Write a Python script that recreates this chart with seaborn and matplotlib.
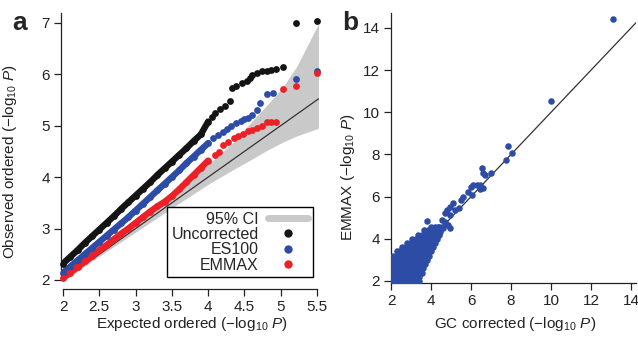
import numpy as np
import pandas as pd
import matplotlib.pyplot as plt
from matplotlib.lines import Line2D
import seaborn as sns

sns.set_style("ticks")
plt.rcParams['font.family'] = ['Liberation Sans', 'DejaVu Sans']
plt.rcParams['mathtext.fontset'] = 'custom'
plt.rcParams['mathtext.rm'] = 'Liberation Sans'
plt.rcParams['mathtext.it'] = 'Liberation Sans:italic'

# panel a: QQ plot, dense part (drawn as a band of dots) and the sparse tail
dense_x = [2.0, 2.1, 2.2, 2.3, 2.4, 2.5, 2.6, 2.7, 2.8, 2.9, 3.0, 3.1, 3.2, 3.3,
           3.4, 3.5, 3.6, 3.7, 3.8, 3.9, 4.0]
unc_dense = [2.32, 2.45, 2.58, 2.72, 2.85, 2.98, 3.11, 3.24, 3.38, 3.51, 3.64, 3.77,
             3.90, 4.04, 4.17, 4.30, 4.43, 4.56, 4.70, 4.83, 5.08]
es_dense = [2.14, 2.26, 2.38, 2.50, 2.62, 2.74, 2.86, 2.98, 3.10, 3.22, 3.35, 3.48,
            3.61, 3.74, 3.87, 4.00, 4.13, 4.27, 4.40, 4.53, 4.66]
em_dense = [2.04, 2.14, 2.25, 2.36, 2.47, 2.58, 2.68, 2.79, 2.90, 3.00, 3.11, 3.22,
            3.33, 3.43, 3.52, 3.63, 3.76, 3.90, 4.04, 4.18, 4.32]

unc_tail_x = [4.05, 4.1, 4.16, 4.23, 4.30, 4.33, 4.39, 4.46, 4.53, 4.57, 4.61, 4.67,
              4.74, 4.81, 4.87, 4.94, 5.03, 5.21, 5.50]
unc_tail_y = [5.16, 5.24, 5.32, 5.39, 5.47, 5.73, 5.77, 5.82, 5.87, 5.92, 5.98, 6.03,
              6.06, 6.07, 6.09, 6.11, 6.14, 6.99, 7.04]
es_tail_x = [4.07, 4.14, 4.2, 4.26, 4.32, 4.39, 4.45, 4.50, 4.55, 4.61, 4.67, 4.72,
             4.81, 4.90, 5.21, 5.50]
es_tail_y = [4.76, 4.82, 4.87, 4.93, 4.99, 5.05, 5.09, 5.12, 5.14, 5.21, 5.31, 5.45,
             5.62, 5.64, 5.90, 6.07]
em_tail_x = [4.1, 4.15, 4.21, 4.28, 4.35, 4.41, 4.48, 4.55, 4.61, 4.67, 4.74, 4.81,
             4.87, 4.93, 5.03, 5.21, 5.50]
em_tail_y = [4.42, 4.48, 4.63, 4.69, 4.76, 4.80, 4.84, 4.89, 4.92, 4.95, 5.00, 5.07,
             5.08, 5.08, 5.71, 5.77, 6.03]

ci_x = [2.0, 2.5, 3.0, 3.5, 4.0, 4.35, 4.58, 4.81, 5.03, 5.22, 5.52]
ci_lo = [1.98, 2.46, 2.93, 3.40, 3.86, 4.15, 4.33, 4.52, 4.68, 4.80, 4.95]
ci_hi = [2.02, 2.54, 3.07, 3.62, 4.25, 4.68, 5.05, 5.40, 5.75, 6.15, 6.98]

# panel b: EMMAX vs GC corrected
gc_x = [2.02, 2.2, 2.4, 2.6, 2.8, 3.0, 3.2, 3.42,
        2.02, 2.2, 2.4, 2.6, 2.8, 3.0, 3.2, 3.4,
        2.02, 2.2, 2.4, 2.6, 2.8, 3.0, 3.2, 3.4, 3.55,
        2.02, 2.2, 2.4, 2.6, 2.8, 3.0, 3.2, 3.4, 3.6,
        2.02, 2.2, 2.4, 2.6, 2.8, 3.0, 3.2, 3.4, 3.6, 3.72,
        2.02, 2.2, 2.4, 2.6, 2.8, 3.0, 3.2, 3.4, 3.6, 3.82,
        2.1, 2.3, 2.5, 2.7, 2.9, 3.1, 3.3, 3.5, 3.7, 3.92,
        2.28, 2.45, 2.65, 2.85, 3.05, 3.25, 3.45, 3.65, 3.85, 4.02,
        2.55, 2.75, 2.95, 3.15, 3.35, 3.55, 3.75, 3.95, 4.12,
        2.8, 3.0, 3.2, 3.4, 3.6, 3.8, 4.0, 4.2,
        3.05, 3.25, 3.45, 3.65, 3.85, 4.05, 4.28,
        3.35, 3.55, 3.75, 3.95, 4.15, 4.38,
        3.65, 3.85, 4.05, 4.25, 4.45,
        4.0, 4.2, 4.4, 4.55,
        3.82, 4.03, 4.2, 4.37, 4.45, 4.53, 4.62, 4.7, 4.87, 4.95, 4.7, 4.78, 4.95,
        4.95, 5.12, 5.2, 5.4, 5.5, 5.62, 5.87, 6.0, 6.05, 6.12, 6.28, 6.45, 6.47,
        6.62, 6.53, 6.58, 6.7, 7.0, 7.75, 7.87, 8.03, 10.0, 13.1]
emmax_y = [2.02] * 8 + [2.2] * 8 + [2.4] * 9 + [2.6] * 9 + [2.8] * 10 + [3.0] * 10 + \
          [3.2] * 10 + [3.4] * 10 + [3.6] * 9 + [3.8] * 8 + [4.0] * 7 + [4.2] * 6 + \
          [4.4] * 5 + [4.58] * 4 + \
          [4.85, 4.34, 4.42, 4.58, 4.34, 4.9, 4.5, 4.82, 4.66, 4.5, 5.21, 5.37, 5.53,
           5.13, 5.69, 5.37, 5.45, 5.84, 6.0, 6.24, 6.48, 6.08, 6.56, 6.56, 6.56, 6.34,
           6.4, 7.35, 7.11, 7.03, 7.14, 7.73, 8.41, 8.09, 10.54, 14.43]

black = '#141414'
blue = '#2d4ca6'
red = '#ec2027'
band = '#c9c9c9'

fig = plt.figure(figsize=(6.38, 3.37), dpi=100)
ax = fig.add_axes([61 / 638, 47.7 / 337, 261 / 638, 276.3 / 337])
axb = fig.add_axes([391 / 638, 54 / 337, 245 / 638, 270 / 337])

# ---- panel a
ax.fill_between(ci_x, ci_lo, ci_hi, color=band, lw=0, zorder=1)
ax.plot([2, 5.52], [2, 5.52], color='#333333', lw=0.9, zorder=2)

series = [(unc_dense, unc_tail_x, unc_tail_y, black),
          (es_dense, es_tail_x, es_tail_y, blue),
          (em_dense, em_tail_x, em_tail_y, red)]
for dy, tx, ty, c in series:
    sns.lineplot(x=dense_x, y=dy, color=c, lw=4.6, solid_capstyle='round',
                 ax=ax, zorder=3)
    sns.scatterplot(x=dense_x + tx, y=dy + ty, color=c, s=24, linewidth=0,
                    ax=ax, zorder=4, clip_on=False)

ax.set_xlim(1.972, 5.569)
ax.set_ylim(1.819, 7.19)
ax.set_xticks([2, 2.5, 3, 3.5, 4, 4.5, 5, 5.5])
ax.set_xticklabels(['2', '2.5', '3', '3.5', '4', '4.5', '5', '5.5'])
ax.set_yticks([2, 3, 4, 5, 6, 7])
ax.spines['bottom'].set_bounds(2, 5.5)
ax.spines['left'].set_bounds(2, 7.19)
ax.set_xlabel('Expected ordered (−log$_{10}$ $\\mathit{P}$)', fontsize=11)
ax.set_ylabel('Observed ordered (−log$_{10}$ $\\mathit{P}$)', fontsize=11)
ax.xaxis.set_label_coords(0.5, -0.094)
ax.yaxis.set_label_coords(-0.16, 0.46)

# with markerfirst=False the labels are right-aligned against the markers
handles = [Line2D([], [], color=band, lw=5),
           Line2D([], [], ls='', marker='o', ms=6, color=black, mec='none'),
           Line2D([], [], ls='', marker='o', ms=6, color=blue, mec='none'),
           Line2D([], [], ls='', marker='o', ms=6, color=red, mec='none')]
leg = ax.legend(handles, ['95% CI', 'Uncorrected', 'ES100', 'EMMAX'],
                loc='lower right', bbox_to_anchor=(0.966, 0.043), markerfirst=False,
                fancybox=False, edgecolor='black', framealpha=1, fontsize=11.5,
                handlelength=2.5, labelspacing=0.02, borderpad=0.3,
                handletextpad=0.6, borderaxespad=0)
leg.get_frame().set_linewidth(1.0)

# ---- panel b
axb.axline((2, 2), slope=1, color='#333333', lw=0.9, zorder=2)
sns.scatterplot(x=gc_x, y=emmax_y, color=blue, s=22, linewidth=0, ax=axb, zorder=3)
axb.set_xlim(2.0, 14.25)
axb.set_ylim(1.905, 14.71)
axb.set_xticks(range(2, 15, 2))
axb.set_yticks(range(2, 15, 2))
axb.set_xlabel('GC corrected (−log$_{10}$ $\\mathit{P}$)', fontsize=11)
axb.set_ylabel('EMMAX (−log$_{10}$ $\\mathit{P}$)', fontsize=11)
axb.xaxis.set_label_coords(0.506, -0.119)
axb.yaxis.set_label_coords(-0.139, 0.39)

for a in (ax, axb):
    sns.despine(ax=a)
    a.tick_params(direction='out', length=5, width=0.9, labelsize=11, colors='#222222',
                  pad=3)
    for s in ('left', 'bottom'):
        a.spines[s].set_linewidth(0.9)
        a.spines[s].set_color('#222222')
    a.xaxis.label.set_color('#222222')
    a.yaxis.label.set_color('#222222')

fig.text(12 / 638, 1 - 30 / 337, 'a', fontsize=19, fontweight='bold')
fig.text(342 / 638, 1 - 30 / 337, 'b', fontsize=19, fontweight='bold')

fig.savefig('out.png', dpi=100)
